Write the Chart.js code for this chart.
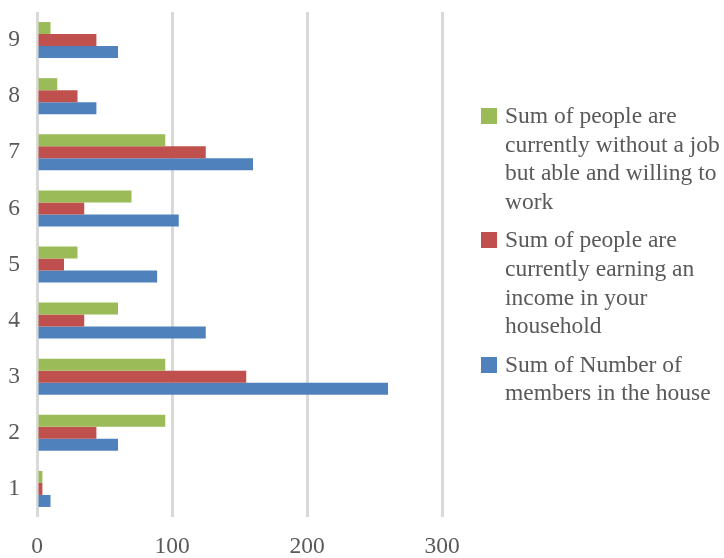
<!DOCTYPE html>
<html>
<head>
<meta charset="utf-8">
<script src="https://cdn.jsdelivr.net/npm/chart.js@4"></script>
<style>
  html, body { margin: 0; padding: 0; background: #fff; }
  #wrap { position: relative; width: 724px; height: 558px; }
  #legend {
    position: absolute; left: 481px; top: 101px; width: 243px;
    font-family: 'Liberation Serif', 'Times New Roman', serif;
    font-size: 23.5px; line-height: 28.7px; color: #595959;
  }
  .item { position: relative; padding-left: 24px; margin-bottom: 9.5px; }
  .box { position: absolute; left: 0; top: 7px; width: 16px; height: 16px; }
</style>
</head>
<body>
<div id="wrap">
  <canvas id="chart" width="724" height="558"></canvas>
  <div id="legend"></div>
</div>
<script>
const categories = ['1', '2', '3', '4', '5', '6', '7', '8', '9'];
const withoutJob = [4, 95, 95, 60, 30, 70, 95, 15, 10];
const earning = [4, 44, 155, 35, 20, 35, 125, 30, 44];
const members = [10, 60, 260, 125, 89, 105, 160, 44, 60];
const xTicks = [0, 100, 200, 300];

const seriesNames = [
  'Sum of people are currently without a job but able and willing to work',
  'Sum of people are currently earning an income in your household',
  'Sum of Number of members in the house'
];
const legendLines = [
  ['Sum of people are', 'currently without a job', 'but able and willing to', 'work'],
  ['Sum of people are', 'currently earning an', 'income in your', 'household'],
  ['Sum of Number of', 'members in the house']
];
const colors = ['#9bbb59', '#c0504d', '#4f81bd'];
const seriesData = [withoutJob, earning, members];

const font = { family: "'Liberation Serif', 'Times New Roman', serif", size: 23.5 };

const ctx = document.getElementById('chart').getContext('2d');
const chart = new Chart(ctx, {
  type: 'bar',
  data: {
    labels: categories,
    datasets: seriesData.map((d, i) => ({
      label: seriesNames[i],
      data: d,
      backgroundColor: colors[i],
      borderWidth: 0,
      categoryPercentage: 0.642,
      barPercentage: 1
    }))
  },
  options: {
    indexAxis: 'y',
    responsive: false,
    animation: false,
    layout: { padding: { top: 12, right: 282, left: 0, bottom: 0 } },
    plugins: {
      legend: { display: false },
      tooltip: { enabled: false }
    },
    scales: {
      x: {
        min: 0,
        max: 300,
        afterBuildTicks: scale => { scale.ticks = xTicks.map(v => ({ value: v })); },
        afterFit: scale => {
          scale.height = 41;
          scale.paddingLeft = 0;
          scale.paddingRight = 0;
        },
        grid: { color: '#d9d9d9', lineWidth: 3, drawTicks: false },
        border: { display: false },
        ticks: { color: '#595959', font, padding: 16, maxRotation: 0 }
      },
      y: {
        reverse: true,
        afterFit: scale => {
          scale.width = 37;
          scale.paddingTop = 0;
          scale.paddingBottom = 0;
        },
        grid: { display: false, drawTicks: false },
        border: { display: false },
        ticks: { color: '#595959', font, padding: 17 }
      }
    }
  }
});

// legend built from the series
const legend = document.getElementById('legend');
legendLines.forEach((lines, i) => {
  const item = document.createElement('div');
  item.className = 'item';
  item.innerHTML = `<span class="box" style="background:${colors[i]}"></span>${lines.join('<br>')}`;
  legend.appendChild(item);
});
</script>
</body>
</html>
